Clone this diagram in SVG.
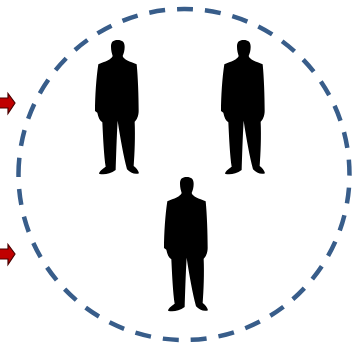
<svg xmlns="http://www.w3.org/2000/svg" width="360" height="345" viewBox="0 0 360 345">
<style>
.ring{fill:none;stroke:#385d8a;stroke-width:4.500;stroke-dasharray:16 12}
.arrow{fill:#c00000;stroke:#4a0000;stroke-width:1.200}
.sil{fill:#000}
</style>
<defs>
<filter id="soft" x="-10%" y="-10%" width="120%" height="120%"><feGaussianBlur stdDeviation="0.45"/></filter>
<g id="person" filter="url(#soft)"><path class="sil" transform="translate(85 30) scale(.3333)" d="M98 30C84 30 78 36 78 50C78 62 81 70 83 78C80 88 60 95 40 103C34 140 30 200 30 243L37 248C40 262 44 272 52 277C54 320 57 380 62 410C50 418 42 425 42 431C55 436 75 432 92 420C93 385 95 320 98 272C105 320 116 380 126 418C135 428 150 435 162 430C160 420 152 412 146 408C149 370 151 320 149 275C155 270 161 258 161 243C161 200 159 140 155 103C135 95 115 88 113 78C116 70 119 62 119 50C119 36 112 30 98 30Z"/></g>
<path id="arr" class="arrow" d="M-2 98H8V93.500L15 103L8 113.500V108H-2Z"/>
</defs>
<g id="connectors">
<use href="#arr"/>
<use href="#arr" y="151"/>
</g>
<g id="boundary"><circle class="ring" cx="184" cy="174.500" r="165.500" transform="rotate(180.300 184 174.500)"/></g>
<g id="person-1"><use href="#person"/></g>
<g id="person-2"><use href="#person" x="126"/></g>
<g id="person-3"><use href="#person" x="69" y="137"/></g>
</svg>
